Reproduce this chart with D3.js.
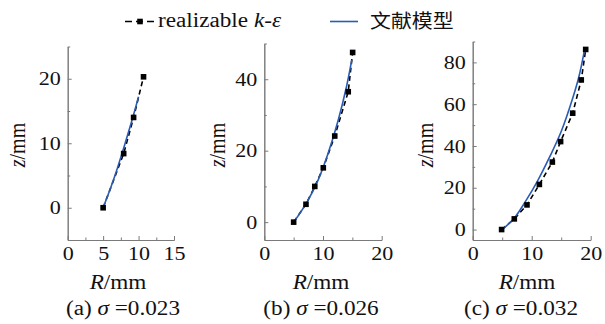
<!DOCTYPE html>
<html>
<head>
<meta charset="utf-8">
<script src="https://cdn.jsdelivr.net/npm/d3@7"></script>
<style>
  html, body { margin: 0; padding: 0; background: #fff; }
  svg { display: block; }
</style>
</head>
<body>
<svg id="chart" width="605" height="324"></svg>
<script>
// Simulated profiles (realizable k-ε) and literature model curves, R and z in mm
const simR_a = [5.0, 7.9, 9.3, 10.7];
const simZ_a = [0, 8.4, 14.0, 20.3];
const modelR_a = [5.0, 6.0, 7.0, 8.0, 9.0, 10.0];
const modelZ_a = [0, 2.9, 6.1, 9.6, 13.3, 17.2];

const simR_b = [5.0, 7.1, 8.6, 10.05, 12.0, 14.3, 15.05];
const simZ_b = [0, 5.0, 10.0, 15.2, 24.1, 36.5, 47.5];
const modelR_b = [5.0, 7.2, 9.2, 10.9, 12.6, 14.0, 14.9];
const modelZ_b = [0, 5.4, 11.9, 19.4, 28.6, 37.9, 45.4];

const simR_c = [4.9, 7.05, 9.2, 11.3, 13.5, 14.9, 16.95, 18.4, 19.15];
const simZ_c = [0, 5.1, 11.8, 21.6, 32.3, 42.1, 55.7, 71.6, 86.2];
const modelR_c = [5.0, 7.0, 9.0, 11.0, 13.0, 15.0, 17.0, 18.0, 19.0];
const modelZ_c = [0, 5.3, 13.7, 23.3, 34.5, 46.9, 63.3, 73.1, 86.6];

// Axis ranges and ticks per panel
const xDomains = [[0, 15], [0, 20], [0, 20]];
const yDomains = [[-5, 25], [-5, 50], [-5, 90]];
const xTicks = [[0, 5, 10, 15], [0, 10, 20], [0, 10, 20]];
const xMinor = [[2.5, 7.5, 12.5], [5, 15], [5, 15]];
const yTicks = [[0, 10, 20], [0, 20, 40], [0, 20, 40, 60, 80]];
const yMinor = [[5, 15, 25], [10, 30, 50], [10, 30, 50, 70, 90]];
const captions = ["(a) \u03c3 =0.023", "(b) \u03c3 =0.026", "(c) \u03c3 =0.032"];
const legendSim = "realizable";
const legendModel = "文献模型";

const series = [
  { simR: simR_a, simZ: simZ_a, modR: modelR_a, modZ: modelZ_a },
  { simR: simR_b, simZ: simZ_b, modR: modelR_b, modZ: modelZ_b },
  { simR: simR_c, simZ: simZ_c, modR: modelR_c, modZ: modelZ_c }
];

// Panel placement (pixels)
const frames = [
  { x0: 67.7, x1: 174.0, yLabelX: 25, rLabelX: 118, capX: 123 },
  { x0: 264.3, x1: 381.7, yLabelX: 225, rLabelX: 321, capX: 321 },
  { x0: 472.7, x1: 590.7, yLabelX: 433, rLabelX: 527, capX: 521 }
];
const bottom = 240;
const topY = [46.5, 43.5, 41.5];

const SERIF = "'Liberation Serif', 'Times New Roman', serif";
const STRETCH = 1.16;
const AXIS_COLOR = "#7a7a7a";
const BLUE = "#2b5cb3";

const svg = d3.select("#chart");
svg.append("rect").attr("width", 605).attr("height", 324).attr("fill", "#fff");

// Place a horizontally widened text at (x, y)
function stretchedText(g, x, y, anchor, size) {
  return g.append("text")
    .attr("transform", `translate(${x},${y}) scale(${STRETCH},1)`)
    .attr("text-anchor", anchor)
    .attr("font-family", SERIF)
    .attr("font-size", size)
    .attr("fill", "#111");
}

function widenTickLabels(axisG) {
  axisG.selectAll(".tick text").each(function () {
    const t = d3.select(this);
    const x = +t.attr("x") || 0;
    t.attr("transform", `translate(${x},0) scale(${STRETCH},1) translate(${-x},0)`);
  });
}

series.forEach((s, i) => {
  const f = frames[i];
  const x = d3.scaleLinear().domain(xDomains[i]).range([f.x0, f.x1]);
  const y = d3.scaleLinear().domain(yDomains[i]).range([bottom, topY[i]]);
  const g = svg.append("g");

  // Axes with inward ticks
  const xa = g.append("g").attr("transform", `translate(0,${bottom})`)
    .call(d3.axisBottom(x).tickValues(xTicks[i]).tickSizeInner(-4).tickSizeOuter(0).tickPadding(7));
  g.append("g").attr("transform", `translate(0,${bottom})`)
    .call(d3.axisBottom(x).tickValues(xMinor[i]).tickSizeInner(-2.5).tickSizeOuter(0).tickFormat(""));
  const ya = g.append("g").attr("transform", `translate(${f.x0},0)`)
    .call(d3.axisLeft(y).tickValues(yTicks[i]).tickSizeInner(-4).tickSizeOuter(0).tickPadding(7));
  g.append("g").attr("transform", `translate(${f.x0},0)`)
    .call(d3.axisLeft(y).tickValues(yMinor[i]).tickSizeInner(-2.5).tickSizeOuter(0).tickFormat(""));

  g.selectAll(".domain").attr("stroke", AXIS_COLOR).attr("stroke-width", 1);
  g.selectAll(".tick line").attr("stroke", AXIS_COLOR).attr("stroke-width", 1);
  g.selectAll(".tick text").attr("font-family", SERIF).attr("font-size", 19).attr("fill", "#111");
  widenTickLabels(xa);
  widenTickLabels(ya);

  // Simulation: dashed line with square markers
  const simPts = s.simR.map((r, k) => [r, s.simZ[k]]);
  g.append("path")
    .attr("d", d3.line().x(d => x(d[0])).y(d => y(d[1]))(simPts))
    .attr("fill", "none").attr("stroke", "#000").attr("stroke-width", 1.6)
    .attr("stroke-dasharray", "5,3.5");

  // Literature model curve
  const modPts = s.modR.map((r, k) => [r, s.modZ[k]]);
  g.append("path")
    .attr("d", d3.line().curve(d3.curveCatmullRom.alpha(0.5)).x(d => x(d[0])).y(d => y(d[1]))(modPts))
    .attr("fill", "none").attr("stroke", BLUE).attr("stroke-width", 1.6);

  g.selectAll("rect.pt").data(simPts).join("rect").attr("class", "pt")
    .attr("x", d => x(d[0]) - 2.8).attr("y", d => y(d[1]) - 2.8)
    .attr("width", 5.6).attr("height", 5.6).attr("fill", "#000");

  // Axis titles
  const rl = stretchedText(g, f.rLabelX, 288.5, "middle", 20);
  rl.append("tspan").attr("font-style", "italic").text("R");
  rl.append("tspan").text("/mm");

  const zl = g.append("text")
    .attr("transform", `translate(${f.yLabelX},145) scale(${STRETCH},1) rotate(-90)`)
    .attr("text-anchor", "middle").attr("font-family", SERIF).attr("font-size", 20).attr("fill", "#111");
  zl.append("tspan").attr("font-style", "italic").text("z");
  zl.append("tspan").text("/mm");

  // Caption
  const cap = stretchedText(g, f.capX, 315, "middle", 20);
  const parts = captions[i].split("\u03c3");
  cap.append("tspan").text(parts[0]);
  cap.append("tspan").attr("font-style", "italic").text("\u03c3");
  cap.append("tspan").text(parts[1]);
});

// Legend
const lg = svg.append("g");
lg.append("line").attr("x1", 125).attr("x2", 155).attr("y1", 21.5).attr("y2", 21.5)
  .attr("stroke", "#000").attr("stroke-width", 1.6).attr("stroke-dasharray", "7,4");
lg.append("rect").attr("x", 137.2).attr("y", 18.7).attr("width", 5.6).attr("height", 5.6).attr("fill", "#000");
const lt = stretchedText(lg, 158, 27, "start", 20);
lt.append("tspan").text(legendSim + " ");
lt.append("tspan").attr("font-style", "italic").text("k");
lt.append("tspan").text("-");
lt.append("tspan").attr("font-style", "italic").text("\u03b5");

lg.append("line").attr("x1", 330).attr("x2", 358).attr("y1", 21.5).attr("y2", 21.5)
  .attr("stroke", BLUE).attr("stroke-width", 1.6);
lg.append("text")
  .attr("transform", `translate(370,28) scale(1.1,1)`)
  .attr("font-family", "'Noto Sans CJK SC', sans-serif").attr("font-size", 19)
  .attr("fill", "#111").text(legendModel);
</script>
</body>
</html>
